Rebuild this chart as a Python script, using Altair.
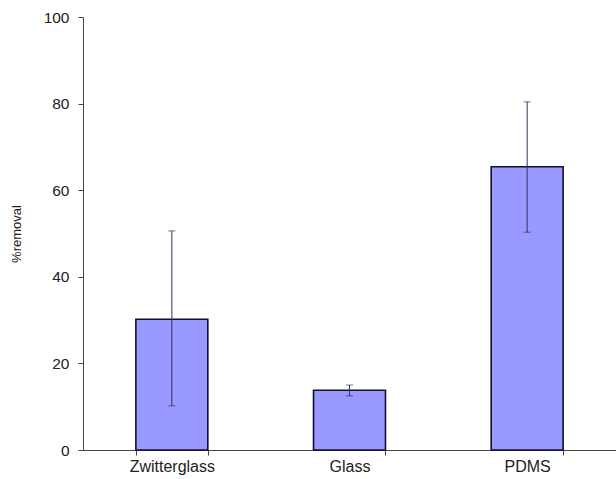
import altair as alt
import pandas as pd

categories = ["Zwitterglass", "Glass", "PDMS"]
removal = [30.2, 13.8, 65.4]
err_low = [10.2, 12.5, 50.3]
err_high = [50.6, 15.0, 80.4]

df = pd.DataFrame({"cat": categories, "val": removal, "lo": err_low, "hi": err_high})

FONT = "Liberation Sans"
W, H = 533, 433

xscale = alt.Scale(domain=categories, paddingInner=0.595, paddingOuter=0.2975)
yscale = alt.Scale(domain=[0, 100], nice=False)

x = alt.X("cat:N", scale=xscale, sort=categories, title=None,
          axis=alt.Axis(labelAngle=0, tickBand="extent", domainColor="#444444",
                        tickColor="#444444", tickSize=5, labelFontSize=16,
                        labelColor="#222222", labelFont=FONT, labelPadding=3,
                        domainWidth=1))

bars = alt.Chart(df).mark_bar(color="#9999FF", stroke="#111133", strokeWidth=1.6).encode(
    x=x,
    y=alt.Y("val:Q", scale=yscale, title="%removal",
            axis=alt.Axis(values=[0, 20, 40, 60, 80, 100], grid=False,
                          domainColor="#444444", tickColor="#444444", tickSize=5,
                          labelFontSize=15.5, labelColor="#222222", labelFont=FONT,
                          titleFont=FONT, titleFontSize=13, titleFontWeight="normal",
                          titleColor="#222222", titlePadding=20, labelPadding=9)),
)

rules = alt.Chart(df).mark_rule(color="#333355", strokeWidth=1).encode(
    x=alt.X("cat:N", scale=xscale, sort=categories),
    y=alt.Y("lo:Q", scale=yscale),
    y2="hi:Q",
)
cap_lo = alt.Chart(df).mark_tick(color="#333355", thickness=1, size=7, orient="horizontal").encode(
    x=alt.X("cat:N", scale=xscale, sort=categories),
    y=alt.Y("lo:Q", scale=yscale),
)
cap_hi = alt.Chart(df).mark_tick(color="#333355", thickness=1, size=7, orient="horizontal").encode(
    x=alt.X("cat:N", scale=xscale, sort=categories),
    y=alt.Y("hi:Q", scale=yscale),
)

chart = alt.layer(bars, rules, cap_lo, cap_hi).properties(
    width=W, height=H,
    background="white",
    autosize=alt.AutoSizeParams(type="none"),
    padding={"left": 83, "top": 17, "right": 0, "bottom": 29},
).configure_view(stroke=None)

chart.save("out.html", embed_options={"renderer": "svg", "actions": False})
